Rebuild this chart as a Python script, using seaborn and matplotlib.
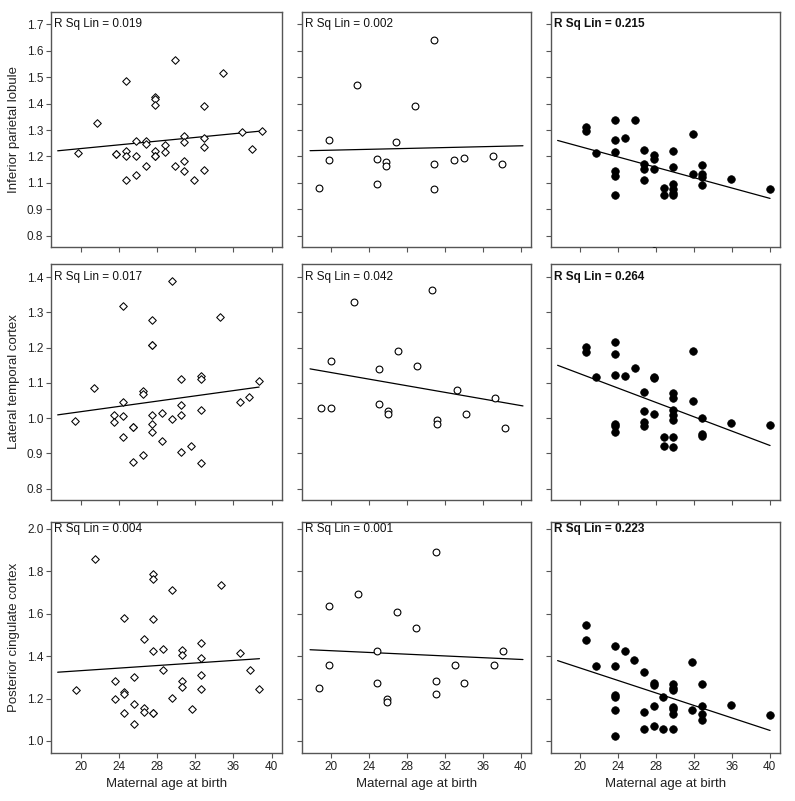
import numpy as np
import pandas as pd
import matplotlib
matplotlib.use("Agg")
import matplotlib.pyplot as plt
import matplotlib.transforms as mtransforms
import seaborn as sns

sns.set_theme(style="ticks")
plt.rcParams['font.family'] = ['Liberation Sans', 'DejaVu Sans']

# ==============================
# DATA
# ==============================
region_labels = ["Inferior parietal lobule", "Lateral temporal cortex", "Posterior cingulate cortex"]
rsq_labels = [
    ["R Sq Lin = 0.019", "R Sq Lin = 0.002", "R Sq Lin = 0.215"],
    ["R Sq Lin = 0.017", "R Sq Lin = 0.042", "R Sq Lin = 0.264"],
    ["R Sq Lin = 0.004", "R Sq Lin = 0.001", "R Sq Lin = 0.223"],
]
x_ticks = [20, 24, 28, 32, 36, 40]

# row 1 axis is printed with a skipped label (0.9 -> 1.1)
row1_tick_pos = [0.9, 1.0, 1.1, 1.2, 1.3, 1.4, 1.5, 1.6, 1.7]
row1_tick_lab = ["0.8", "0.9", "1.1", "1.2", "1.3", "1.4", "1.5", "1.6", "1.7"]
row2_tick_pos = [0.8, 0.9, 1.0, 1.1, 1.2, 1.3, 1.4]
row2_tick_lab = ["0.8", "0.9", "1.0", "1.1", "1.2", "1.3", "1.4"]
row3_tick_pos = [1.0, 1.2, 1.4, 1.6, 1.8, 2.0]
row3_tick_lab = ["1.0", "1.2", "1.4", "1.6", "1.8", "2.0"]

# --- inferior parietal lobule ---
ipl_age_a = [19.72, 21.75, 23.74, 23.74, 24.79, 24.79, 24.79, 24.79, 25.80, 25.80, 25.80,
             26.82, 26.82, 26.82, 27.83, 27.83, 27.83, 27.83, 27.83, 27.83, 28.85, 28.85,
             29.86, 29.86, 30.87, 30.87, 30.87, 30.87, 31.89, 32.90, 32.90, 32.90, 32.90,
             34.93, 36.96, 37.97, 38.99]
ipl_val_a = [1.212, 1.325, 1.210, 1.210, 1.487, 1.220, 1.201, 1.111, 1.260, 1.203, 1.128,
             1.260, 1.247, 1.163, 1.426, 1.416, 1.396, 1.222, 1.203, 1.203, 1.244, 1.218,
             1.566, 1.162, 1.279, 1.254, 1.184, 1.145, 1.111, 1.392, 1.270, 1.235, 1.149,
             1.516, 1.294, 1.228, 1.296]
ipl_age_b = [18.69, 19.72, 19.72, 22.75, 24.80, 24.80, 25.82, 25.82, 26.84, 28.89,
             30.90, 30.90, 30.90, 32.95, 33.97, 37.04, 38.06]
ipl_val_b = [1.081, 1.261, 1.185, 1.470, 1.189, 1.097, 1.180, 1.163, 1.256, 1.390,
             1.640, 1.170, 1.078, 1.185, 1.195, 1.200, 1.172]
ipl_age_c = [20.63, 20.63, 21.66, 23.70, 23.70, 23.70, 23.70, 23.70, 23.70, 24.73, 25.75,
             26.77, 26.77, 26.77, 26.77, 27.80, 27.80, 27.80, 27.80, 28.82, 28.82,
             29.84, 29.84, 29.84, 29.84, 29.84, 29.84, 31.89, 31.89, 32.91, 32.91, 32.91,
             32.91, 35.94, 40.07]
ipl_val_c = [1.311, 1.296, 1.213, 1.338, 1.263, 1.215, 1.144, 1.127, 1.053, 1.271, 1.339,
             1.223, 1.170, 1.153, 1.109, 1.205, 1.191, 1.153, 0.842, 1.081, 1.053,
             1.220, 1.159, 1.094, 1.077, 1.062, 1.053, 1.286, 1.132, 1.168, 1.133, 1.123,
             1.092, 1.114, 1.077]

# --- lateral temporal cortex ---
ltc_age_a = [19.40, 21.44, 23.47, 23.47, 24.49, 24.49, 24.49, 24.49, 25.51, 25.51, 25.51,
             26.53, 26.53, 26.53, 27.51, 27.51, 27.51, 27.51, 27.51, 27.51, 28.53, 28.53,
             29.54, 29.54, 30.56, 30.56, 30.56, 30.56, 31.58, 32.60, 32.60, 32.60, 32.60,
             34.63, 36.67, 37.68, 38.70]
ltc_val_a = [0.992, 1.086, 1.008, 0.990, 1.318, 1.047, 1.005, 0.947, 0.976, 0.976, 0.875,
             1.077, 1.070, 0.897, 1.278, 1.208, 1.208, 1.010, 0.984, 0.961, 1.014, 0.935,
             1.390, 0.998, 1.110, 1.037, 1.009, 0.905, 0.922, 1.121, 1.112, 1.023, 0.874,
             1.288, 1.045, 1.060, 1.105]
ltc_age_b = [18.91, 19.93, 19.93, 22.43, 25.01, 25.01, 26.03, 26.03, 27.05, 29.10,
             30.62, 31.18, 31.18, 33.23, 34.25, 37.32, 38.34]
ltc_val_b = [1.030, 1.162, 1.030, 1.330, 1.140, 1.040, 1.020, 1.012, 1.191, 1.149,
             1.363, 0.995, 0.984, 1.080, 1.013, 1.057, 0.972]
ltc_age_c = [20.60, 20.60, 21.66, 23.70, 23.70, 23.70, 23.70, 23.70, 23.70, 24.73, 25.75,
             26.77, 26.77, 26.77, 26.77, 27.80, 27.80, 27.80, 28.82, 28.82,
             29.84, 29.84, 29.84, 29.84, 29.84, 29.84, 29.84, 31.89, 31.89, 32.91, 32.91,
             32.91, 35.94, 40.07]
ltc_val_c = [1.203, 1.187, 1.117, 1.216, 1.182, 1.124, 0.985, 0.979, 0.961, 1.121, 1.143,
             1.073, 1.020, 0.990, 0.978, 1.118, 1.115, 1.013, 0.948, 0.922,
             1.072, 1.056, 1.023, 1.009, 0.994, 0.948, 0.918, 1.190, 1.050, 1.001, 0.956,
             0.950, 0.987, 0.981]

# --- posterior cingulate cortex ---
pcc_age_a = [19.55, 21.54, 23.57, 23.57, 24.58, 24.58, 24.58, 24.58, 25.59, 25.59, 25.59,
             26.61, 26.61, 26.61, 27.62, 27.62, 27.62, 27.62, 27.62, 27.62, 28.64, 28.64,
             29.62, 29.62, 30.63, 30.63, 30.63, 30.63, 31.64, 32.66, 32.66, 32.66, 32.66,
             34.69, 36.71, 37.73, 38.74]
pcc_val_a = [1.242, 1.858, 1.284, 1.198, 1.579, 1.231, 1.220, 1.132, 1.300, 1.174, 1.082,
             1.480, 1.155, 1.138, 1.786, 1.765, 1.574, 1.424, 1.132, 1.132, 1.433, 1.333,
             1.710, 1.203, 1.431, 1.405, 1.281, 1.254, 1.151, 1.461, 1.389, 1.311, 1.246,
             1.737, 1.413, 1.334, 1.246]
pcc_age_b = [18.73, 19.75, 19.75, 22.82, 24.87, 24.87, 25.89, 25.89, 26.91, 28.96,
             31.01, 31.01, 31.01, 33.05, 34.07, 37.14, 38.17]
pcc_val_b = [1.248, 1.636, 1.359, 1.693, 1.422, 1.273, 1.199, 1.185, 1.606, 1.534,
             1.892, 1.281, 1.223, 1.356, 1.273, 1.359, 1.422]
pcc_age_c = [20.60, 20.60, 21.62, 23.67, 23.67, 23.67, 23.67, 23.67, 23.67, 24.69, 25.71,
             26.74, 26.74, 26.74, 27.76, 27.76, 27.76, 27.76, 28.78, 28.78,
             29.77, 29.77, 29.77, 29.77, 29.77, 29.77, 29.77, 31.82, 31.82, 32.84, 32.84,
             32.84, 32.84, 35.91, 40.00]
pcc_val_c = [1.547, 1.478, 1.354, 1.447, 1.353, 1.216, 1.209, 1.147, 1.025, 1.424, 1.384,
             1.326, 1.136, 1.058, 1.273, 1.262, 1.164, 1.071, 1.209, 1.055,
             1.269, 1.251, 1.242, 1.161, 1.152, 1.129, 1.055, 1.373, 1.148, 1.270, 1.163,
             1.125, 1.101, 1.171, 1.122]

# ==============================
# LAYOUT / STYLE
# ==============================
W, H = 795, 801
col_px = [(51, 282), (302, 531), (551, 780)]
row_px = [(12, 247), (264, 500), (522, 753)]
row_ylim = [(0.857, 1.747), (0.768, 1.4375), (0.943, 2.033)]
row_ticks = [(row1_tick_pos, row1_tick_lab), (row2_tick_pos, row2_tick_lab),
             (row3_tick_pos, row3_tick_lab)]
xlim = (16.9, 41.1)
line_span = [None, (17.75, 40.25), (17.6, 40.05)]   # col 1 line ends at last point

panels = [
    [(ipl_age_a, ipl_val_a), (ipl_age_b, ipl_val_b), (ipl_age_c, ipl_val_c)],
    [(ltc_age_a, ltc_val_a), (ltc_age_b, ltc_val_b), (ltc_age_c, ltc_val_c)],
    [(pcc_age_a, pcc_val_a), (pcc_age_b, pcc_val_b), (pcc_age_c, pcc_val_c)],
]
marker_kw = [
    dict(marker="D", s=15, color="white", edgecolor="black", linewidth=0.75),
    dict(marker="o", s=24, color="white", edgecolor="black", linewidth=0.8),
    dict(marker="o", s=30, color="black", edgecolor="black", linewidth=0.5),
]
spine_col = "#555555"

fig = plt.figure(figsize=(W / 100, H / 100), dpi=100)

for r in range(3):
    for c in range(3):
        x0, x1 = col_px[c]
        y0, y1 = row_px[r]
        ax = fig.add_axes([x0 / W, 1 - y1 / H, (x1 - x0) / W, (y1 - y0) / H])
        ages, vals = panels[r][c]
        df = pd.DataFrame({"age": ages, "val": vals})

        # regression line over a fixed span, like the original
        span = line_span[c] if line_span[c] is not None else (17.6, max(ages))
        ax.set_xlim(*span)
        sns.regplot(data=df, x="age", y="val", ax=ax, scatter=False, ci=None,
                    truncate=False, line_kws=dict(color="black", lw=0.9))

        sns.scatterplot(data=df, x="age", y="val", ax=ax, legend=False,
                        zorder=3, **marker_kw[c])

        ax.set_xlim(*xlim)
        ax.set_ylim(*row_ylim[r])
        ax.set_xticks(x_ticks)
        pos, lab = row_ticks[r]
        ax.set_yticks(pos)

        if c == 0:
            ax.set_yticklabels(lab)
            ax.set_ylabel(region_labels[r], fontsize=9.5, labelpad=5, color="#222222")
        else:
            ax.set_yticklabels([])
            ax.set_ylabel("")
        if r == 2:
            ax.set_xticklabels([str(t) for t in x_ticks])
            ax.set_xlabel("Maternal age at birth", fontsize=9.5, labelpad=4, color="#222222")
        else:
            ax.set_xticklabels([])
            ax.set_xlabel("")

        for sp in ax.spines.values():
            sp.set_visible(True)
            sp.set_color(spine_col)
            sp.set_linewidth(1.0)
        ax.tick_params(axis="both", direction="out", length=3.5, width=0.8,
                       color=spine_col, labelsize=8.5, labelcolor="#222222", pad=2)

        # R Sq label sits at the height of the top tick
        trans = mtransforms.blended_transform_factory(ax.transAxes, ax.transData)
        ax.text(0.012, pos[-1], rsq_labels[r][c], transform=trans, ha="left", va="center",
                fontsize=8.5, color="#111111",
                fontweight="bold" if c == 2 else "normal")

fig.savefig("out.png", dpi=100, facecolor="white")
